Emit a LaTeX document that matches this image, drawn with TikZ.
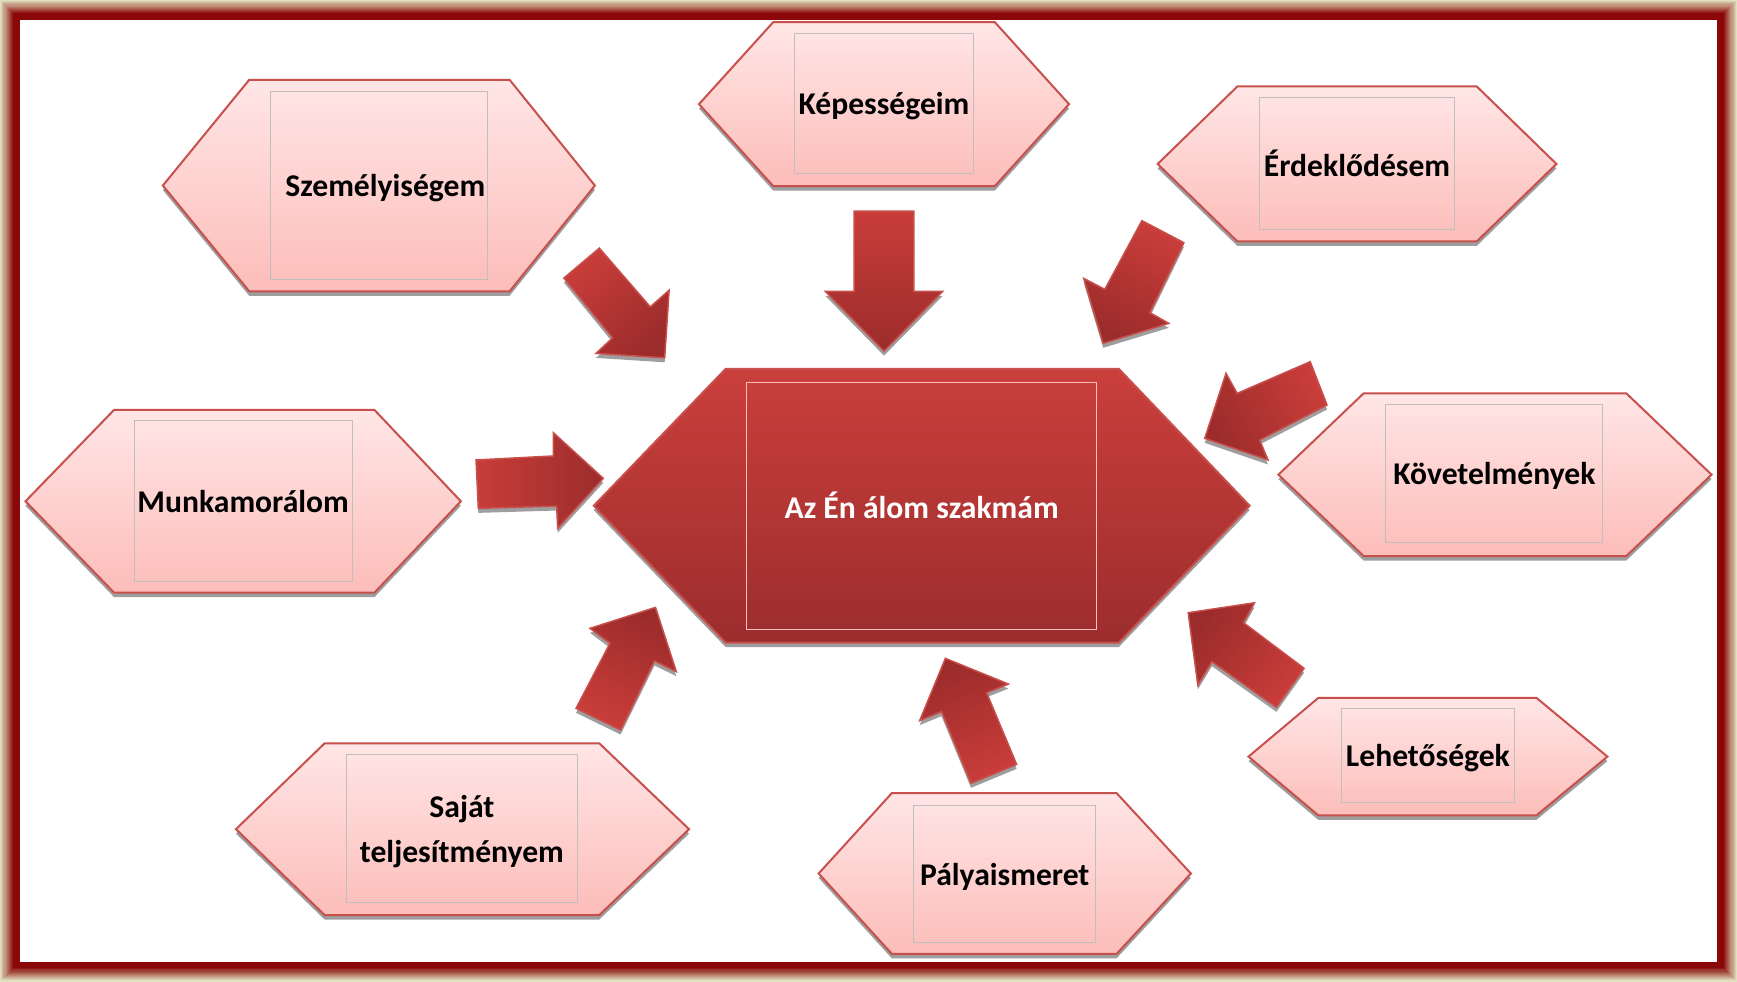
\documentclass[tikz,border=0pt]{standalone}
\usepackage{fontspec}
\setmainfont{Carlito}
\usetikzlibrary{shadows, positioning}
\definecolor{frameout}{HTML}{E0E1BF}
\definecolor{framein}{HTML}{8A0808}
\definecolor{petaltop}{HTML}{FFE6E6}
\definecolor{petalbot}{HTML}{FCBDB9}
\definecolor{petalline}{HTML}{C8504C}
\definecolor{coretop}{HTML}{CA3F3C}
\definecolor{corebot}{HTML}{9C2D2D}
\definecolor{arrowlight}{HTML}{C93D3A}
\definecolor{arrowdark}{HTML}{9B2C2B}
\newcommand{\pix}{0.11078mm}
\tikzstyle{shade} = [drop shadow={shadow xshift=0mm, shadow yshift=-0.45mm, fill=black!38, opacity=1}]
\tikzstyle{petal} = [shade, draw=petalline, line width=0.2mm, top color=petaltop, bottom color=petalbot]
\tikzstyle{core} = [shade, draw=petalline, line width=0.2mm, top color=coretop, bottom color=corebot]
\tikzstyle{push} = [shade, draw=petalline, line width=0.15mm, top color=arrowlight, bottom color=arrowdark]
\tikzstyle{inbox} = [draw=black!25, line width=0.1mm, inner sep=0pt, align=center, text depth=0pt,
                    font=\fontsize{9}{12.8}\selectfont\bfseries]
\tikzstyle{corebox} = [inbox, draw=white!75!red, text=white]
\newcommand{\hexa}[7]{\draw[#1] (#2,{(#6+#7)/2}) -- (#3,#6) -- (#4,#6) -- (#5,{(#6+#7)/2}) -- (#4,#7) -- (#3,#7) -- cycle;}

\begin{document}
\begin{tikzpicture}[x=0.11078mm, y=-0.11078mm]
				\foreach \k [evaluate=\k as \mix using \k*100/12] in {0,...,12}
					\fill[framein!\mix!frameout] (\k,\k) rectangle (1568-\k,886-\k);
				\fill[white] (18,18) rectangle (1550,868);

				\hexa{petal}{147}{225}{460}{537}{72}{263}
				\node (Szem) [inbox, minimum width=196*\pix, minimum height=169*\pix] at (342,167.5) {\hspace*{1.3mm}Személyiségem};

				\hexa{petal}{631}{698}{898}{965}{20}{168}
				\node (Kep) [inbox, minimum width=162*\pix, minimum height=127*\pix] at (798,93.5) {Képességeim};

				\hexa{petal}{1045}{1117}{1333}{1405}{78}{218}
				\node (Erd) [inbox, minimum width=176*\pix, minimum height=119*\pix] at (1225,147.5) {Érdeklődésem};

				\hexa{petal}{23}{103}{338}{416}{370}{535}
				\node (Munka) [inbox, minimum width=197*\pix, minimum height=145*\pix] at (219.5,452.5) {Munkamorálom};

				\hexa{core}{536}{655}{1010}{1128}{333}{580}
				\node (Core) [corebox, minimum width=316*\pix, minimum height=223*\pix] at (832,456.5) {Az Én álom szakmám};

				\hexa{petal}{1154}{1231}{1468}{1545}{355}{502}
				\node (Kov) [inbox, minimum width=196*\pix, minimum height=125*\pix] at (1349,427.5) {Követelmények};

				\hexa{petal}{1127}{1190}{1387}{1451}{630}{736}
				\node (Leh) [inbox, minimum width=156*\pix, minimum height=84*\pix] at (1289,682) {Lehetőségek};

				\hexa{petal}{739}{805}{1008}{1075}{716}{861}
				\node (Palya) [inbox, minimum width=164*\pix, minimum height=124*\pix] at (907,789) {Pályaismeret};

				\hexa{petal}{213}{293}{541}{622}{671}{826}
				\node (Sajat) [inbox, minimum width=208*\pix, minimum height=134*\pix] at (417,748) {Saját\\teljesítményem};

				\draw[push, shading angle=41] (509,251) -- (541,224) -- (587,277) -- (604,262) -- (600,323) -- (538,319) -- (553,305) -- cycle;
				\draw[push, shading angle=0] (771,190.5) -- (825,190.5) -- (825,263) -- (851,263) -- (798,317) -- (745,263) -- (771,263) -- cycle;
				\draw[push, shading angle=-28] (1030.8,199.2) -- (1068.7,219.1) -- (1037.9,282.2) -- (1055.1,291.9) -- (995.8,309.9) -- (978.3,251.3) -- (997.3,261.2) -- cycle;
				\draw[push, shading angle=90] (429.7,415.2) -- (499.5,411.6) -- (499.5,390.6) -- (544.6,431.8) -- (503.4,476.9) -- (502.5,456.8) -- (431.8,458.9) -- cycle;
				\draw[push, shading angle=-64] (1182.7,326.5) -- (1197.9,365.6) -- (1137.1,397.2) -- (1144.6,415.2) -- (1087.5,395.7) -- (1106.7,337) -- (1116.8,355.1) -- cycle;
				\draw[push, shading angle=153] (520,639.4) -- (550.6,580.7) -- (532.6,567.2) -- (591.7,548.3) -- (610.5,606.3) -- (590.8,596.7) -- (560.2,659) -- cycle;
				\draw[push, shading angle=203] (876.5,707.1) -- (849.9,642.4) -- (830.2,650.5) -- (853.4,594.3) -- (910.3,617.5) -- (890.6,625.3) -- (917.7,690) -- cycle;
				\draw[push, shading angle=233] (1177.2,603.3) -- (1122.5,562.1) -- (1132.5,544.1) -- (1072.6,553.1) -- (1081.3,618.3) -- (1094,597.3) -- (1152.2,638.5) -- cycle;
\end{tikzpicture}
\end{document}
